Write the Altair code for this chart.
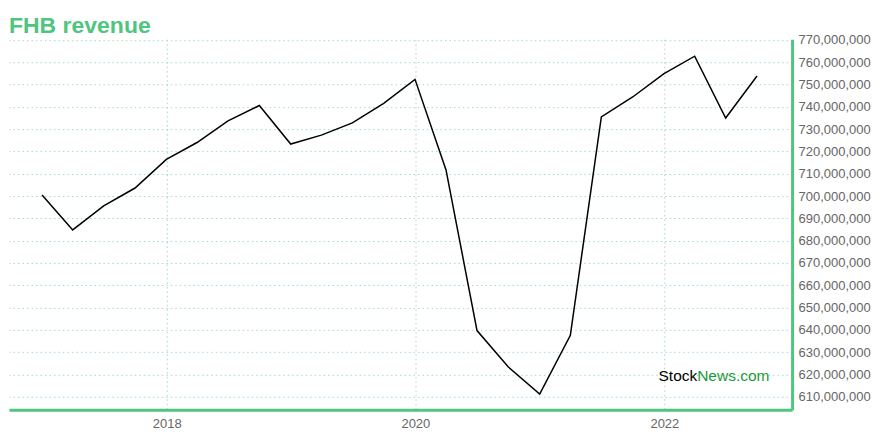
import altair as alt
import pandas as pd

dates = pd.date_range("2016-12-31", periods=24, freq="QE").strftime("%Y-%m-%d").tolist()
revenue_m = [700.5, 684.8, 695.6, 703.6, 716.4, 724.0, 733.7, 740.6,
             723.3, 727.3, 732.8, 741.5, 752.3, 711.7, 639.7, 623.4,
             611.2, 637.6, 735.5, 744.4, 754.9, 762.7, 735.0, 753.8]
y_ticks_m = [610, 620, 630, 640, 650, 660, 670, 680, 690, 700, 710, 720, 730, 740, 750, 760, 770]
x_tick_years = [2018, 2020, 2022]

df = pd.DataFrame({"date": dates, "revenue": [v * 1e6 for v in revenue_m]})

GREEN = "#4fc57f"
GRID = "#a6ddba"

x_enc = alt.X(
    "date:T",
    scale=alt.Scale(domain=[alt.DateTime(year=2016, month=9, date=25),
                            alt.DateTime(year=2023, month=1, date=11)]),
    axis=alt.Axis(
        title=None, format="%Y",
        values=[alt.DateTime(year=y, month=1, date=1) for y in x_tick_years],
        ticks=False, domainColor=GREEN, domainWidth=3,
        labelColor="#666666", labelFontSize=13, labelFont="Liberation Sans",
        labelPadding=8, gridColor=GRID, gridDash=[1.5, 3], gridWidth=1,
    ),
)
y_enc = alt.Y(
    "revenue:Q",
    scale=alt.Scale(domain=[604.2e6, 770.3e6], nice=False, zero=False),
    axis=alt.Axis(
        title=None, orient="right", format=",d",
        values=[v * 1e6 for v in y_ticks_m],
        ticks=False, domainColor=GREEN, domainWidth=3,
        labelColor="#666666", labelFontSize=13, labelFont="Liberation Sans",
        labelPadding=6, gridColor=GRID, gridDash=[1.5, 3], gridWidth=1,
    ),
)

line = alt.Chart(df).mark_line(color="black", strokeWidth=1.5).encode(x=x_enc, y=y_enc)

wm1 = alt.Chart(df.head(1)).mark_text(
    text="Stock", align="right", baseline="alphabetic", fontSize=15.5,
    font="Liberation Sans", color="black"
).encode(x=alt.value(689), y=alt.value(342))
wm2 = alt.Chart(df.head(1)).mark_text(
    text="News.com", align="left", baseline="alphabetic", fontSize=15.5,
    font="Liberation Sans", color="#1a9a3c"
).encode(x=alt.value(689), y=alt.value(342))

chart = alt.layer(line, wm1, wm2).properties(
    width=784, height=371,
    title=alt.TitleParams("FHB revenue", anchor="start", color=GREEN,
                          fontSize=23, fontWeight="bold", font="Liberation Sans",
                          offset=8, dy=12),
    autosize=alt.AutoSizeParams(type="none"),
    padding={"left": 1, "top": 31, "right": 80, "bottom": 30},
).configure_view(strokeWidth=0)

chart.save("out.html", embed_options={"renderer": "svg", "actions": False})
